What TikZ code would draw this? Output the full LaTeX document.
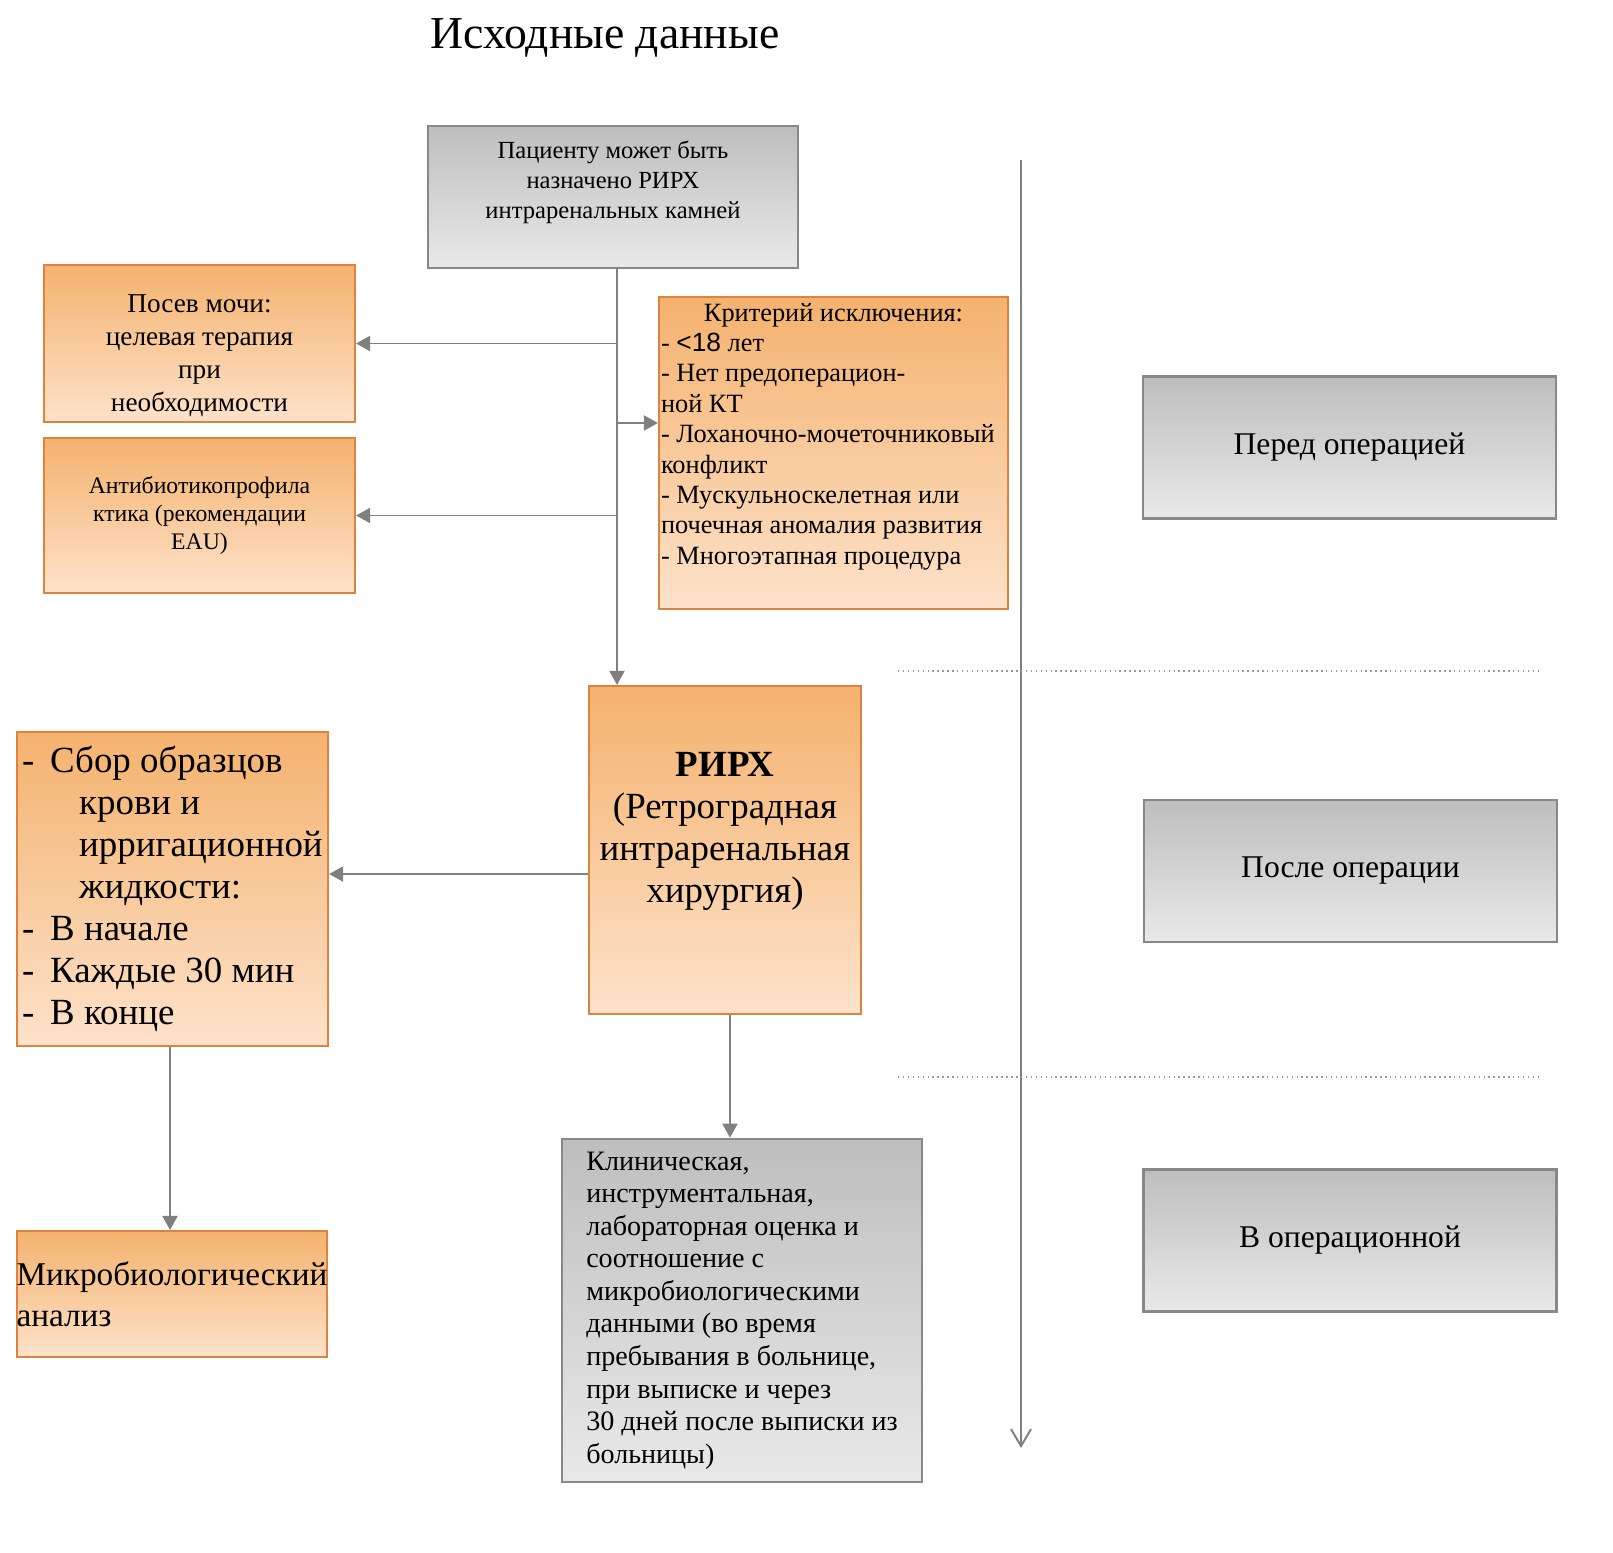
\documentclass[tikz,border=0pt]{standalone}
\usepackage{fontspec}
\setmainfont{Liberation Serif}
\newfontfamily\arialfont{Liberation Sans}
\usepackage{tikz}
\usetikzlibrary{arrows.meta,positioning,calc}
\usepackage{xcolor}

\definecolor{orangetop}{RGB}{244,178,110}
\definecolor{orangebot}{RGB}{253,226,202}
\definecolor{orangeline}{RGB}{222,130,62}
\definecolor{greytop}{RGB}{190,190,190}
\definecolor{greybot}{RGB}{233,233,233}
\definecolor{greyline}{RGB}{136,136,136}
\definecolor{linkgrey}{RGB}{128,128,128}

\begin{document}
\begin{tikzpicture}[
    obox/.style={rectangle, draw=orangeline, line width=1.2pt, top color=orangetop, bottom color=orangebot, inner sep=0pt},
    gbox/.style={rectangle, draw=greyline, line width=1.5pt, top color=greytop, bottom color=greybot, inner sep=0pt},
    phase/.style={gbox, minimum width=8.26cm, minimum height=2.84cm, font=\fontsize{18}{21}\selectfont},
    arr/.style={draw=linkgrey, line width=1.1pt, -{Triangle[length=0.28cm,width=0.3cm]}},
    sep/.style={draw=linkgrey!80, line width=0.8pt, dotted}
]

% Page
\fill[white] (0,0) rectangle (32.26,-31.06);
\useasboundingbox (0,0) rectangle (32.26,-31.06);

% Title
\node[font=\fontsize{26}{30}\selectfont] (title) at (12.1,-0.76) {Исходные данные};

% Start
\node[gbox, minimum width=7.4cm, minimum height=2.84cm] (start) at (12.26,-3.94) {};
\node[align=center, font=\fontsize{14}{17}\selectfont] (start-t) at ([yshift=0.3cm]start.center)
    {Пациенту может быть\\назначено РИРХ\\интраренальных камней};

% Before surgery boxes
\node[obox, minimum width=6.22cm, minimum height=3.14cm] (urine) at (3.99,-6.87) {};
\node[align=center, font=\fontsize{15.5}{18.8}\selectfont] (urine-t) at ([yshift=-0.24cm]urine.center)
    {Посев мочи:\\целевая терапия\\при\\необходимости};
\node[obox, minimum width=6.22cm, minimum height=3.1cm, align=center, font=\fontsize{13.5}{16}\selectfont] (antibio) at (3.99,-10.31)
    {Антибиотикопрофила\\ктика (рекомендации\\EAU)};

% Exclusion criteria
\node[obox, minimum width=6.98cm, minimum height=6.24cm] (crit) at (16.67,-9.06) {};
\node[align=left, font=\fontsize{15}{17.3}\selectfont] (crit-t) at ([yshift=0.33cm]crit.center)
    {\makebox[6.9cm]{Критерий исключения:}\\
     - {\arialfont <18} лет\\
     - Нет предоперацион-\\
     ной КТ\\
     - Лоханочно-мочеточниковый\\
     конфликт\\
     - Мускульноскелетная или\\
     почечная аномалия развития\\
     - Многоэтапная процедура};

% Surgery
\node[obox, minimum width=5.44cm, minimum height=6.56cm] (rirx) at (14.5,-17.0) {};
\node[align=center, font=\fontsize{21}{23.9}\selectfont] (rirx-t) at ([yshift=0.38cm]rirx.center)
    {\textbf{РИРХ}\\(Ретроградная\\интраренальная\\хирургия)};

% Sampling
\node[obox, minimum width=6.22cm, minimum height=6.28cm, align=left, font=\fontsize{21}{23.9}\selectfont] (collect) at (3.45,-17.78)
    {\makebox[0.56cm][l]{-}Сбор образцов\\
     \hspace*{1.14cm}крови и\\
     \hspace*{1.14cm}ирригационной\\
     \hspace*{1.14cm}жидкости:\\
     \makebox[0.56cm][l]{-}В начале\\
     \makebox[0.56cm][l]{-}Каждые 30 мин\\
     \makebox[0.56cm][l]{-}В конце};
\node[obox, minimum width=6.2cm, minimum height=2.52cm, align=left, font=\fontsize{18.9}{23.3}\selectfont] (micro) at (3.44,-25.88)
    {Микробиологический\\анализ};

% Follow-up
\node[gbox, minimum width=7.2cm, minimum height=6.86cm, align=left, font=\fontsize{16}{18.5}\selectfont] (clinic) at (14.84,-26.21)
    {Клиническая,\\инструментальная,\\лабораторная оценка и\\соотношение с\\микробиологическими\\данными (во время\\пребывания в больнице,\\при выписке и через\\30 дней после выписки из\\больницы)};

% Phases
\node[phase] (before) at (26.99,-8.95) {Перед операцией};
\node[phase] (after) at (27.01,-17.42) {После операции};
\node[phase] (inop) at (27.0,-24.81) {В операционной};

% Timeline
\coordinate (tl-top) at (20.42,-3.2);
\coordinate (tl-bot) at (20.42,-28.96);
\draw[draw=linkgrey, line width=1.1pt, -{Straight Barb[length=0.34cm,width=0.4cm]}] (tl-top) -- (tl-bot);

% Phase separators
\draw[sep] (17.96,-13.42) -- (30.76,-13.42);
\draw[sep] (17.96,-21.54) -- (30.76,-21.54);

% Arrows - main trunk
\coordinate (trunk) at ([xshift=0.08cm]start.south);
\draw[arr] (trunk) -- (trunk |- rirx.north);
\draw[arr] (trunk |- urine.east) -- (urine.east);
\draw[arr] (trunk |- antibio.east) -- (antibio.east);
\coordinate (crit-in) at ([yshift=0.6cm]crit.west);
\draw[arr] (trunk |- crit-in) -- (crit-in);

% Arrows - after surgery
\coordinate (rirx-out) at ([yshift=-0.48cm]rirx.west);
\draw[arr] (rirx-out) -- (rirx-out -| collect.east);
\draw[arr] ([xshift=0.1cm]rirx.south) -- ([xshift=0.1cm]rirx.south |- clinic.north);
\draw[arr] ([xshift=-0.05cm]collect.south) -- ([xshift=-0.05cm]collect.south |- micro.north);

\end{tikzpicture}
\end{document}
